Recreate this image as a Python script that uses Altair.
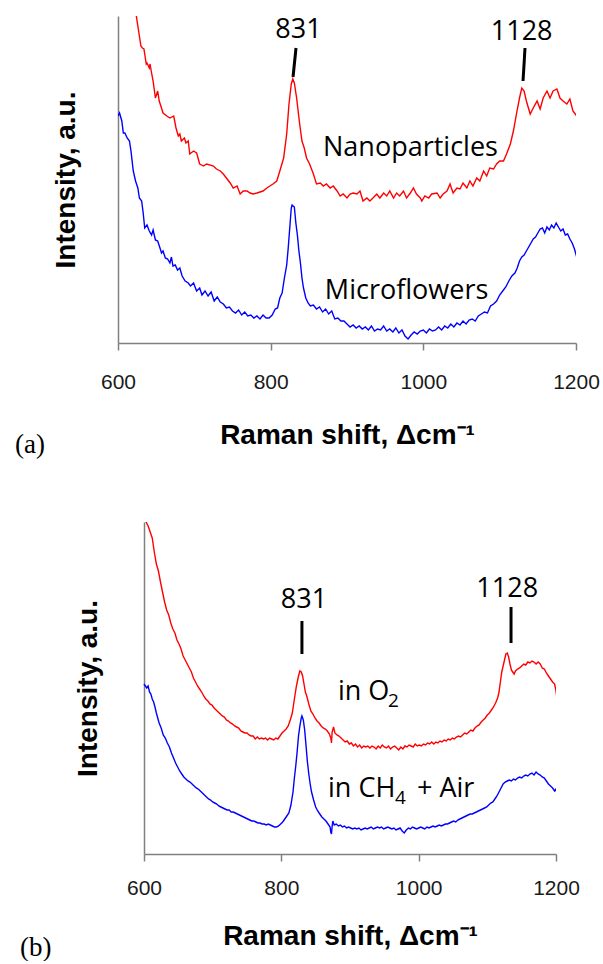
import altair as alt
import pandas as pd

# ---------------- panel (a): nanoparticles vs microflowers ----------------
a_red_shift = [
    600, 610, 618, 624, 627, 630, 632, 634, 637, 638,
    641, 642, 644, 646, 649, 652, 654, 657, 659, 664,
    668, 673, 676, 679, 681, 683, 687, 689, 692, 694,
    699, 703, 707, 712, 716, 725, 729, 734, 738, 742,
    747, 751, 756, 760, 764, 769, 773, 777, 782, 790,
    795, 799, 803, 808, 812, 817, 821, 824, 827, 829,
    831, 834, 838, 841, 844, 847, 851, 856, 860, 865,
    869, 873, 878, 882, 887, 891, 895, 900, 904, 908,
    913, 917, 921, 926, 930, 934, 939, 943, 948, 952,
    956, 961, 965, 969, 974, 978, 983, 987, 991, 996,
    998, 1002, 1007, 1011, 1018, 1022, 1026, 1031, 1035, 1039,
    1044, 1048, 1052, 1057, 1061, 1065, 1070, 1074, 1079, 1083,
    1087, 1092, 1096, 1100, 1105, 1109, 1114, 1118, 1122, 1126,
    1129, 1132, 1135, 1140, 1144, 1149, 1153, 1157, 1162, 1166,
    1170, 1175, 1179, 1183, 1188, 1192, 1196, 1203,
]
a_red_counts = [
    420, 375, 345, 327, 312, 297, 295, 294, 279, 280,
    275, 279, 270, 262, 245, 252, 242, 235, 230, 227,
    225, 227, 215, 207, 209, 202, 205, 200, 202, 189,
    192, 190, 179, 177, 179, 177, 174, 172, 169, 165,
    160, 155, 157, 149, 152, 152, 150, 149, 150, 152,
    155, 157, 159, 162, 172, 185, 209, 239, 259, 264,
    260, 245, 219, 202, 195, 185, 179, 169, 159, 160,
    157, 159, 155, 157, 152, 147, 149, 145, 149, 150,
    149, 152, 142, 145, 142, 145, 149, 145, 150, 147,
    152, 145, 150, 147, 152, 145, 150, 155, 149, 145,
    142, 147, 145, 149, 150, 145, 149, 152, 159, 150,
    155, 154, 160, 155, 162, 157, 165, 162, 172, 167,
    175, 174, 179, 182, 182, 189, 199, 212, 229, 245,
    255, 252, 242, 229, 235, 242, 234, 245, 252, 245,
    252, 254, 245, 242, 239, 244, 232, 225,
]
a_blue_shift = [
    600, 602, 605, 607, 609, 612, 615, 617, 620, 623,
    626, 628, 631, 633, 635, 638, 641, 644, 646, 649,
    652, 655, 657, 659, 662, 665, 668, 670, 672, 675,
    678, 681, 684, 688, 692, 695, 699, 703, 707, 710,
    714, 718, 722, 726, 730, 734, 738, 742, 746, 750,
    754, 758, 762, 766, 770, 774, 778, 782, 786, 790,
    794, 798, 802, 806, 809, 812, 815, 818, 821, 823,
    825, 827, 828, 831, 833, 835, 837, 839, 841, 843,
    846, 849, 852, 856, 860, 864, 868, 872, 876, 880,
    884, 888, 892, 896, 900, 904, 908, 912, 916, 920,
    924, 928, 932, 936, 940, 944, 948, 952, 956, 960,
    964, 968, 972, 976, 980, 984, 988, 992, 996, 1000,
    1004, 1008, 1012, 1016, 1020, 1024, 1028, 1032, 1036, 1040,
    1044, 1048, 1052, 1056, 1060, 1064, 1068, 1072, 1076, 1080,
    1084, 1088, 1092, 1096, 1100, 1104, 1108, 1112, 1116, 1120,
    1123, 1126, 1129, 1132, 1135, 1138, 1141, 1144, 1147, 1150,
    1153, 1156, 1159, 1162, 1165, 1168, 1171, 1174, 1177, 1180,
    1183, 1186, 1189, 1192, 1195, 1198, 1201,
]
a_blue_counts = [
    227, 230, 222, 210, 210, 205, 202, 192, 172, 162,
    155, 145, 142, 130, 115, 118, 112, 108, 113, 103,
    102, 95, 90, 92, 85, 84, 80, 86, 77, 78,
    73, 75, 67, 62, 60, 57, 60, 52, 55, 48,
    52, 47, 51, 42, 46, 41, 39, 35, 36, 32,
    30, 33, 28, 31, 27, 28, 25, 27, 24, 28,
    25, 25, 28, 34, 35, 45, 50, 65, 78, 95,
    115, 135, 138, 136, 120, 108, 92, 80, 65, 55,
    45, 40, 37, 38, 34, 36, 31, 34, 29, 32,
    24, 25, 22, 22, 19, 16, 18, 15, 17, 14,
    16, 13, 17, 12, 14, 13, 17, 12, 14, 11,
    15, 10, 13, 7, 4, 8, 11, 9, 12, 13,
    10, 14, 12, 13, 16, 13, 17, 15, 19, 16,
    20, 18, 22, 19, 23, 24, 22, 27, 29, 31,
    30, 37, 39, 42, 48, 52, 56, 62, 67, 70,
    75, 82, 86, 88, 92, 96, 100, 104, 106, 110,
    114, 115, 110, 116, 113, 118, 115, 120, 116, 112,
    114, 108, 109, 104, 100, 94, 86,
]

# peak labels, their pointer strokes and the sample names
a_peak_shift = [836.5, 1128.8]
a_peak_counts = [305, 303]
a_peak_text = ["831", "1128"]
a_pointer_shift = [833.2, 1133.2]
a_pointer_shift_end = [829.3, 1130.6]
a_pointer_counts = [295, 295]
a_pointer_counts_end = [266, 262]
a_name_shift = [868.6, 871.0]
a_name_counts = [187, 44]
a_name_text = ["Nanoparticles", "Microflowers"]

# ---------------- panel (b): annealing atmosphere ----------------
b_red_shift = [
    600, 603, 606, 609, 612, 615, 618, 621, 624, 627,
    630, 633, 636, 639, 642, 645, 648, 651, 654, 657,
    660, 663, 666, 669, 672, 675, 678, 681, 684, 687,
    690, 693, 696, 699, 702, 705, 708, 711, 714, 717,
    720, 723, 726, 729, 732, 735, 738, 741, 744, 747,
    750, 753, 756, 759, 762, 765, 768, 771, 774, 777,
    780, 783, 786, 789, 792, 795, 798, 801, 804, 807,
    810, 813, 816, 819, 822, 825, 827, 829, 831, 833,
    835, 837, 840, 843, 846, 849, 852, 855, 858, 861,
    864, 867, 870, 872, 873, 874, 876, 878, 881, 884,
    887, 890, 893, 896, 899, 902, 905, 908, 911, 914,
    917, 920, 923, 926, 929, 932, 935, 938, 941, 944,
    947, 950, 953, 956, 959, 962, 965, 968, 971, 974,
    977, 980, 983, 986, 989, 992, 995, 998, 1001, 1004,
    1007, 1010, 1013, 1016, 1019, 1022, 1025, 1028, 1031, 1034,
    1037, 1040, 1043, 1046, 1049, 1052, 1055, 1058, 1061, 1064,
    1067, 1070, 1073, 1076, 1079, 1082, 1085, 1088, 1091, 1094,
    1097, 1100, 1103, 1106, 1109, 1112, 1115, 1117, 1119, 1121,
    1123, 1125, 1127, 1129, 1131, 1133, 1135, 1137, 1139, 1141,
    1144, 1147, 1150, 1153, 1156, 1159, 1162, 1165, 1168, 1171,
    1174, 1177, 1180, 1183, 1186, 1189, 1192, 1195, 1198, 1200,
    1201,
]
b_red_counts = [
    338, 332, 328, 322, 316, 302, 290, 283, 272, 262,
    252, 244, 239, 231, 225, 221, 214, 210, 205, 198,
    194, 190, 186, 182, 176, 172, 168, 165, 162, 158,
    155, 153, 150, 149, 146, 144, 142, 140, 138, 137,
    134, 133, 131, 130, 128, 127, 126, 123, 122, 121,
    121, 119, 118, 118, 115, 117, 115, 116, 115, 116,
    114, 116, 115, 114, 116, 115, 118, 121, 123, 125,
    128, 134, 141, 155, 168, 178, 183, 182, 178, 170,
    162, 158, 150, 143, 140, 136, 133, 131, 128, 126,
    125, 123, 120, 116, 111, 122, 127, 121, 119, 118,
    116, 114, 112, 113, 110, 111, 108, 110, 107, 109,
    106, 108, 107, 108, 106, 108, 107, 105, 108, 106,
    109, 107, 106, 108, 105, 107, 108, 106, 104, 107,
    105, 108, 107, 109, 108, 107, 110, 108, 109, 108,
    110, 109, 111, 110, 112, 110, 112, 111, 113, 112,
    114, 113, 115, 114, 116, 115, 117, 118, 117, 119,
    121, 120, 122, 124, 123, 126, 128, 129, 132, 134,
    136, 139, 141, 144, 147, 151, 156, 162, 172, 182,
    188, 194, 200, 201, 197, 190, 184, 182, 180, 183,
    185, 186, 188, 190, 189, 192, 191, 193, 192, 190,
    192, 190, 186, 185, 181, 178, 175, 172, 170, 163,
    158,
]
b_blue_shift = [
    600, 602, 604, 606, 608, 610, 612, 614, 616, 618,
    620, 622, 625, 628, 631, 634, 637, 640, 643, 646,
    649, 652, 655, 658, 661, 664, 667, 670, 673, 676,
    679, 682, 685, 688, 691, 694, 697, 700, 703, 706,
    709, 712, 715, 718, 721, 724, 727, 730, 733, 736,
    739, 742, 745, 748, 751, 754, 757, 760, 763, 766,
    769, 772, 775, 778, 781, 784, 787, 790, 793, 796,
    799, 802, 805, 808, 811, 814, 817, 819, 821, 823,
    825, 827, 829, 830, 832, 834, 836, 838, 840, 842,
    844, 847, 850, 853, 856, 859, 862, 865, 868, 871,
    872, 873, 874, 875, 877, 880, 883, 886, 889, 892,
    895, 898, 901, 904, 907, 910, 913, 916, 919, 922,
    925, 928, 931, 934, 937, 940, 943, 946, 949, 952,
    955, 958, 961, 964, 967, 970, 973, 976, 979, 982,
    985, 988, 991, 994, 997, 1000, 1003, 1006, 1009, 1012,
    1015, 1018, 1021, 1024, 1027, 1030, 1033, 1036, 1039, 1042,
    1045, 1048, 1051, 1054, 1057, 1060, 1063, 1066, 1069, 1072,
    1075, 1078, 1081, 1084, 1087, 1090, 1093, 1096, 1099, 1102,
    1105, 1108, 1111, 1114, 1117, 1120, 1123, 1126, 1129, 1132,
    1135, 1138, 1141, 1144, 1147, 1150, 1153, 1156, 1159, 1162,
    1165, 1168, 1171, 1174, 1177, 1180, 1183, 1186, 1189, 1192,
    1195, 1198, 1200, 1201,
]
b_blue_counts = [
    170, 168, 166, 168, 162, 160, 155, 152, 147, 141,
    136, 131, 126, 119, 116, 111, 107, 101, 96, 91,
    87, 83, 80, 77, 75, 73, 72, 70, 68, 66,
    65, 63, 61, 59, 57, 55, 54, 52, 51, 50,
    48, 47, 46, 45, 44, 44, 42, 42, 41, 40,
    39, 38, 37, 36, 35, 34, 33, 33, 32, 31,
    31, 30, 30, 29, 30, 29, 28, 27, 27, 28,
    30, 32, 35, 38, 41, 49, 62, 76, 88, 102,
    118, 128, 136, 138, 134, 124, 108, 92, 80, 70,
    62, 54, 47, 43, 40, 37, 35, 33, 30, 27,
    22, 20, 28, 33, 29, 30, 28, 29, 27, 28,
    26, 27, 26, 25, 26, 25, 26, 24, 25, 26,
    25, 26, 27, 25, 26, 27, 26, 27, 25, 26,
    27, 26, 25, 26, 24, 25, 26, 23, 21, 24,
    26, 25, 27, 26, 25, 26, 27, 26, 25, 27,
    26, 27, 28, 27, 28, 29, 28, 29, 30, 30,
    31, 32, 33, 32, 34, 35, 36, 37, 38, 39,
    40, 40, 41, 42, 43, 44, 45, 46, 47, 49,
    51, 52, 55, 58, 62, 66, 70, 72, 73, 74,
    73, 75, 74, 76, 77, 76, 78, 79, 78, 80,
    81, 79, 82, 80, 79, 77, 76, 73, 70, 68,
    66, 63, 65, 62,
]

b_peak_shift = [833.0, 1129.0]
b_peak_counts = [246, 257]
b_peak_text = ["831", "1128"]
b_pointer_shift = [830.0, 1134.5]
b_pointer_shift_end = [830.0, 1134.5]
b_pointer_counts = [233, 247]
b_pointer_counts_end = [200, 211]
b_o2_shift, b_o2_counts = [882.5], [154]
b_ch4_shift, b_ch4_counts = [868.0], [57]

# ---------------- styling ----------------
RED = "#ff0000"
BLUE = "#0000ff"
AXIS_GREY = "#808080"
NOTE_FONT = "Open Sans"
AXIS_FONT = "Liberation Sans"


def spectra_frame(red_shift, red_counts, blue_shift, blue_counts):
    return pd.concat([
        pd.DataFrame({"shift": red_shift, "counts": red_counts, "trace": "red"}),
        pd.DataFrame({"shift": blue_shift, "counts": blue_counts, "trace": "blue"}),
    ], ignore_index=True)


def encodings(x_range, top, label_pad, title_pad, y_title_pad, y_offset):
    x = alt.X(
        "shift:Q",
        scale=alt.Scale(domain=[600, 1200], range=x_range, nice=False, zero=False),
        axis=alt.Axis(
            values=[600, 800, 1000, 1200], format="d",
            title="Raman shift, \u0394cm\u207b\u00b9",
            grid=False, tickSize=7, tickWidth=1.5, tickColor=AXIS_GREY,
            domainColor=AXIS_GREY, domainWidth=1.5,
            labelFont=AXIS_FONT, labelFontSize=21, labelColor="#1a1a1a",
            labelPadding=label_pad, labelFlush=False,
            titleFont=AXIS_FONT, titleFontSize=28, titleFontWeight="bold",
            titleColor="black", titlePadding=title_pad,
        ),
    )
    y = alt.Y(
        "counts:Q",
        scale=alt.Scale(domain=[0, top], nice=False),
        axis=alt.Axis(
            title="Intensity, a.u.", grid=False, ticks=False, labels=False,
            domainColor=AXIS_GREY, domainWidth=1.5, offset=y_offset,
            titleFont=AXIS_FONT, titleFontSize=28, titleFontWeight="bold",
            titleColor="black", titlePadding=y_title_pad,
        ),
    )
    return x, y


def note(df, x, y, size=27, align="left", dx=0, dy=0):
    return alt.Chart(df).mark_text(
        font=NOTE_FONT, fontSize=size, align=align, baseline="alphabetic",
        color="black", dx=dx, dy=dy,
    ).encode(x=x, y=y, text="label:N")


def pointers(df, x, y):
    return alt.Chart(df).mark_rule(color="black", strokeWidth=3).encode(
        x=x, x2="shift_end:Q", y=y, y2="counts_end:Q"
    )


def panel_tag(text, left, baseline_y):
    return alt.Chart(pd.DataFrame({"label": [text]})).mark_text(
        font="Liberation Serif", fontSize=27, align="left", baseline="alphabetic", color="black"
    ).encode(x=alt.value(left), y=alt.value(baseline_y), text="label:N")


def spectra_lines(df, x, y):
    return alt.Chart(df).mark_line(clip=True, strokeWidth=1.4).encode(
        x=x, y=y,
        color=alt.Color("trace:N", scale=alt.Scale(domain=["red", "blue"], range=[RED, BLUE]),
                        legend=None),
        detail="trace:N",
    )


# ----- panel (a) -----
xa, ya = encodings([0, 458], 327, 21, 29, 38, 0)
panel_a = alt.layer(
    spectra_lines(spectra_frame(a_red_shift, a_red_counts, a_blue_shift, a_blue_counts), xa, ya),
    pointers(pd.DataFrame({"shift": a_pointer_shift, "shift_end": a_pointer_shift_end,
                           "counts": a_pointer_counts, "counts_end": a_pointer_counts_end}), xa, ya),
    note(pd.DataFrame({"shift": a_peak_shift, "counts": a_peak_counts, "label": a_peak_text}),
         xa, ya, align="center"),
    note(pd.DataFrame({"shift": a_name_shift, "counts": a_name_counts, "label": a_name_text}), xa, ya),
    panel_tag("(a)", -103, 437),
).properties(width=458, height=327)

# ----- panel (b): its frame sits 26 px further right than panel (a)'s -----
xb, yb = encodings([26, 438], 332, 16, 24, 42, -26)
o2 = pd.DataFrame({"shift": b_o2_shift, "counts": b_o2_counts, "label": ["in O"]})
o2_sub = pd.DataFrame({"shift": b_o2_shift, "counts": b_o2_counts, "label": ["2"]})
ch4 = pd.DataFrame({"shift": b_ch4_shift, "counts": b_ch4_counts, "label": ["in CH"]})
ch4_sub = pd.DataFrame({"shift": b_ch4_shift, "counts": b_ch4_counts, "label": ["4"]})
ch4_air = pd.DataFrame({"shift": b_ch4_shift, "counts": b_ch4_counts, "label": ["+ Air"]})
panel_b = alt.layer(
    spectra_lines(spectra_frame(b_red_shift, b_red_counts, b_blue_shift, b_blue_counts), xb, yb),
    pointers(pd.DataFrame({"shift": b_pointer_shift, "shift_end": b_pointer_shift_end,
                           "counts": b_pointer_counts, "counts_end": b_pointer_counts_end}), xb, yb),
    note(pd.DataFrame({"shift": b_peak_shift, "counts": b_peak_counts, "label": b_peak_text}),
         xb, yb, align="center"),
    note(o2, xb, yb),
    note(o2_sub, xb, yb, size=19, dx=50, dy=7),
    note(ch4, xb, yb),
    note(ch4_sub, xb, yb, size=19, dx=67, dy=7),
    note(ch4_air, xb, yb, dx=89),
    panel_tag("(b)", -98, 434),
).properties(width=438, height=332)

chart = alt.vconcat(
    panel_a, panel_b, spacing=64
).properties(
    padding={"left": 15, "top": 15, "right": 0, "bottom": 0},
    background="white",
).configure_view(stroke=None)

chart.save("out.html", embed_options={"renderer": "svg", "actions": False})
